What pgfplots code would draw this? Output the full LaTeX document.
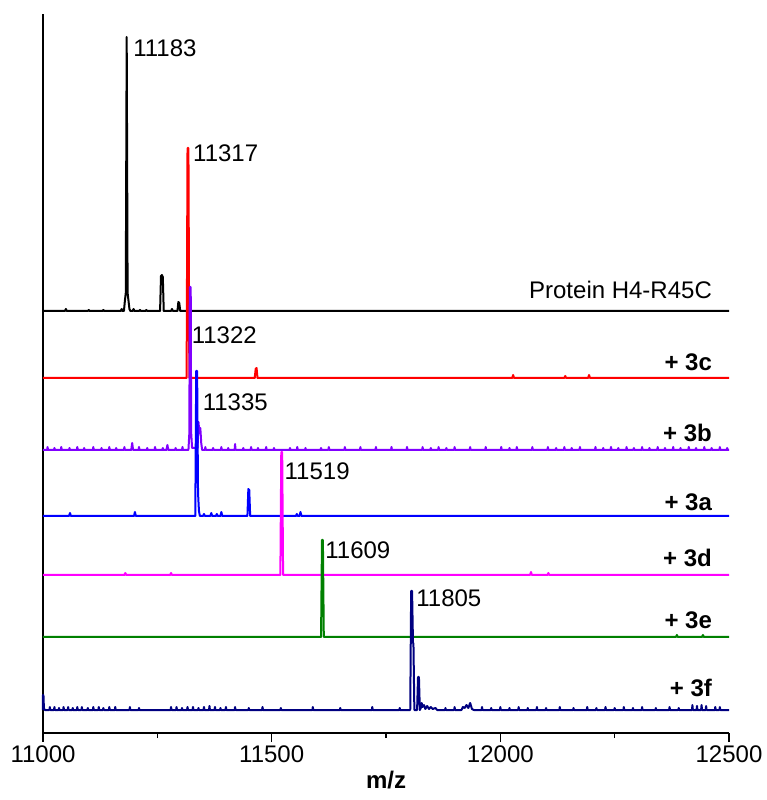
\documentclass[border=0pt]{standalone}
\usepackage{pgfplots}
\pgfplotsset{compat=1.18}
\usepackage{fontspec}
\setmainfont{Liberation Sans}
\definecolor{cpurple}{RGB}{128,0,255}
\definecolor{cgreen}{RGB}{0,128,0}
\definecolor{cnavy}{RGB}{0,0,128}
\definecolor{cmag}{RGB}{255,0,255}
\newcommand{\lf}{\fontsize{24}{28}\selectfont}
\begin{document}
\begin{tikzpicture}
\begin{axis}[name=ax, scale only axis, width=686pt, height=719pt,
  xmin=11000, xmax=12500, ymin=0, ymax=719,
  axis x line=bottom, axis y line=left,
  axis line style={line width=2pt, -},
  ytick=\empty, xtick={11000,11500,12000,12500}, minor x tick num=1,
  tick align=outside, major tick length=9pt, minor tick length=5pt,
  tick style={line width=1.6pt, black},
  scaled x ticks=false,
  xticklabel style={font=\lf, /pgf/number format/fixed, /pgf/number format/1000 sep={}},
  /pgf/number format/assume math mode=true,
  xlabel={\textbf{m/z}}, xlabel style={font=\lf, yshift=-2pt},
  clip=false,
  every axis plot/.append style={line width=2pt, line join=round, mark=none}]
\addplot[black] coordinates {(11000,422) (11048,422)(11050,424)(11052,422) (11098,422)(11100,423)(11102,422) (11130,422)(11132,423)(11134,422) (11170,422)(11172,424)(11174,422)(11177,422)(11179,432)(11181,440)(11183,696)(11185,440)(11187,432)(11189,424)(11191,422) (11196,422)(11198,424)(11200,422)(11210,422)(11212,423)(11214,422)(11224,422)(11226,423)(11228,422) (11256,422)(11258,457)(11260,458)(11262,456)(11264,422) (11280,422)(11282,424)(11284,422) (11294,422)(11296,431)(11298,430)(11300,422) (12500,422)};
\addplot[red] coordinates {(11000,355)(11314,355)(11316,585)(11318,585)(11320,355)(11463,355)(11465,364)(11467,365)(11469,355)(12026,355)(12028,358)(12030,355)(12140,355)(12142,357)(12144,355)(12192,355)(12194,358)(12196,355)(12500,355)};
\addplot[cpurple] coordinates {(11000,283)
(11009,283)(11010,286)(11011,283)
(11024,283)(11025,285)(11026,283)
(11039,283)(11040,286)(11041,283)
(11057,283)(11058,285)(11059,283)
(11074,283)(11075,286)(11076,283)
(11089,283)(11090,285)(11091,283)
(11109,283)(11110,286)(11111,283)
(11127,283)(11128,285)(11129,283)
(11144,283)(11145,286)(11146,283)
(11159,283)(11160,285)(11161,283)
(11177,283)(11178,286)(11179,283)
(11193,283)(11195,290)(11197,283)
(11209,283)(11210,286)(11211,283)
(11227,283)(11228,285)(11229,283)
(11244,283)(11245,286)(11246,283)
(11261,283)(11262,285)(11263,283)
(11270,283)(11272,288)(11274,283)
(11289,283)(11290,285)(11291,283)
(11304,283)(11305,286)(11306,283)
(11318,283)(11320,300)(11321,446)(11323,446)(11324,300)(11326,285)(11338,285)(11340,311)(11342,300)(11344,305)(11346,290)(11348,283)
(11354,283)(11355,286)(11356,283)
(11371,283)(11372,285)(11373,283)
(11389,283)(11390,286)(11391,283)
(11404,283)(11405,285)(11406,283)
(11419,283)(11420,289)(11421,283)
(11437,283)(11438,285)(11439,283)
(11454,283)(11455,286)(11456,283)
(11469,283)(11470,285)(11471,283)
(11487,283)(11488,286)(11489,283)
(11504,283)(11505,285)(11506,283)
(11539,283)(11540,285)(11541,283)
(11555,283)(11556,286)(11557,283)
(11573,283)(11574,285)(11575,283)
(11607,283)(11608,285)(11609,283)
(11624,283)(11625,286)(11626,283)
(11659,283)(11660,286)(11661,283)
(11693,283)(11694,286)(11695,283)
(11727,283)(11728,286)(11729,283)
(11761,283)(11762,286)(11763,283)
(11795,283)(11796,286)(11797,283)
(11829,283)(11830,286)(11831,283)
(11847,283)(11848,285)(11849,283)
(11864,283)(11865,286)(11866,283)
(11881,283)(11882,285)(11883,283)
(11899,283)(11900,286)(11901,283)
(11933,283)(11934,286)(11935,283)
(11967,283)(11968,286)(11969,283)
(12001,283)(12002,286)(12003,283)
(12019,283)(12020,285)(12021,283)
(12035,283)(12036,286)(12037,283)
(12069,283)(12070,286)(12071,283)
(12103,283)(12104,286)(12105,283)
(12121,283)(12122,285)(12123,283)
(12139,283)(12140,286)(12141,283)
(12155,283)(12156,285)(12157,283)
(12173,283)(12174,286)(12175,283)
(12207,283)(12208,286)(12209,283)
(12224,283)(12225,285)(12226,283)
(12241,283)(12242,286)(12243,283)
(12257,283)(12258,285)(12259,283)
(12275,283)(12276,286)(12277,283)
(12291,283)(12292,285)(12293,283)
(12309,283)(12310,286)(12311,283)
(12325,283)(12326,285)(12327,283)
(12343,283)(12344,286)(12345,283)
(12359,283)(12360,285)(12361,283)
(12377,283)(12378,286)(12379,283)
(12393,283)(12394,285)(12395,283)
(12411,283)(12412,286)(12413,283)
(12427,283)(12428,285)(12429,283)
(12445,283)(12446,286)(12447,283)
(12461,283)(12462,285)(12463,283)
(12479,283)(12480,286)(12481,283)
(12495,283)(12496,285)(12497,283)
(12500,283)};
\addplot[blue] coordinates {(11000,217)(11057,217)(11059,220)(11061,217)(11199,217)(11201,221)(11203,217)(11333,217)(11335,362)(11337,362)(11339,240)(11341,222)(11343,217)(11350,217)(11352,219)(11354,217)(11366,217)(11368,220)(11370,217)(11378,217)(11380,219)(11382,217)(11388,217)(11390,221)(11392,217)(11447,217)(11449,244)(11451,243)(11453,217)(11553,217)(11555,219)(11557,217)(11561,217)(11563,221)(11565,217)(12500,217)};
\addplot[cmag] coordinates {(11000,158)(11178,158)(11180,160)(11182,158)(11278,158)(11280,160)(11282,158)(11519,158)(11521,281)(11523,281)(11525,158)(12065,158)(12067,161)(12069,158)(12103,158)(12105,160)(12107,158)(12500,158)};
\addplot[cgreen] coordinates {(11000,96)(11608,96)(11610,193)(11612,193)(11614,96)(12384,96)(12386,98)(12388,96)(12441,96)(12443,98)(12445,96)(12500,96)};
\addplot[cnavy] coordinates {(11000,23)(11000,38)(11001,38)(11002,25)(11004,23)
(11014,23)(11015,26)(11016,23)
(11024,23)(11025,26)(11026,23)
(11034,23)(11035,25)(11036,23)
(11044,23)(11045,26)(11046,23)
(11054,23)(11055,26)(11056,23)
(11064,23)(11065,25)(11066,23)
(11074,23)(11075,26)(11076,23)
(11084,23)(11085,26)(11086,23)
(11097,23)(11098,25)(11099,23)
(11109,23)(11110,26)(11111,23)
(11121,23)(11122,26)(11123,23)
(11131,23)(11132,25)(11133,23)
(11144,23)(11145,26)(11146,23)
(11157,23)(11158,26)(11159,23)
(11189,23)(11190,26)(11191,23)
(11209,23)(11210,25)(11211,23)
(11279,23)(11280,26)(11281,23)
(11291,23)(11292,26)(11293,23)
(11303,23)(11304,25)(11305,23)
(11315,23)(11316,26)(11317,23)
(11327,23)(11328,26)(11329,23)
(11339,23)(11340,25)(11341,23)
(11351,23)(11352,26)(11353,23)
(11363,23)(11364,27)(11365,23)
(11375,23)(11376,26)(11377,23)
(11387,23)(11388,25)(11389,23)
(11399,23)(11400,26)(11401,23)
(11419,23)(11420,26)(11421,23)
(11449,23)(11450,25)(11451,23)
(11479,23)(11480,26)(11481,23)
(11519,23)(11520,25)(11521,23)
(11589,23)(11590,26)(11591,23)
(11649,23)(11650,25)(11651,23)
(11719,23)(11720,26)(11721,23)
(11779,23)(11780,25)(11781,23)
(11803,23)(11805,142)(11807,142)(11809,90)(11810,90)(11812,23)
(11818,23)(11820,56)(11822,56)(11824,23)(11826,25)(11828,30)(11830,26)(11833,28)(11836,24)(11840,27)(11844,24)(11848,26)(11852,24)(11858,25)(11862,23)
(11879,23)(11880,25)(11881,23)
(11899,23)(11900,26)(11901,23)
(11915,23)(11918,26)(11922,25)(11926,28)(11930,25)(11934,30)(11938,24)(11942,23)
(11959,23)(11960,26)(11961,23)
(11979,23)(11980,25)(11981,23)
(11999,23)(12000,26)(12001,23)
(12019,23)(12020,25)(12021,23)
(12039,23)(12040,26)(12041,23)
(12059,23)(12060,25)(12061,23)
(12079,23)(12080,26)(12081,23)
(12099,23)(12100,25)(12101,23)
(12129,23)(12130,26)(12131,23)
(12159,23)(12160,25)(12161,23)
(12189,23)(12190,26)(12191,23)
(12209,23)(12210,25)(12211,23)
(12229,23)(12230,26)(12231,23)
(12249,23)(12250,25)(12251,23)
(12269,23)(12270,26)(12271,23)
(12289,23)(12290,25)(12291,23)
(12309,23)(12310,26)(12311,23)
(12339,23)(12340,25)(12341,23)
(12369,23)(12370,26)(12371,23)
(12389,23)(12390,25)(12391,23)
(12419,23)(12420,28)(12421,23)
(12429,23)(12430,27)(12431,23)
(12439,23)(12440,28)(12441,23)
(12449,23)(12450,27)(12451,23)
(12469,23)(12470,26)(12471,23)
(12479,23)(12480,26)(12481,23)
(12500,23)};
\node[anchor=west, inner sep=0, font=\lf] at (axis cs:11197,685) {11183};
\node[anchor=west, inner sep=0, font=\lf] at (axis cs:11328,580) {11317};
\node[anchor=west, inner sep=0, font=\lf] at (axis cs:11325,398) {11322};
\node[anchor=west, inner sep=0, font=\lf] at (axis cs:11349,331) {11335};
\node[anchor=west, inner sep=0, font=\lf] at (axis cs:11528,262) {11519};
\node[anchor=west, inner sep=0, font=\lf] at (axis cs:11617,183) {11609};
\node[anchor=west, inner sep=0, font=\lf] at (axis cs:11816,135) {11805};
\node[anchor=east, inner sep=0, font=\lf] at (axis cs:12463,443) {Protein H4-R45C};
\node[anchor=east, inner sep=0, font=\lf\bfseries] at (axis cs:12463,371) {+ 3c};
\node[anchor=east, inner sep=0, font=\lf\bfseries] at (axis cs:12463,300) {+ 3b};
\node[anchor=east, inner sep=0, font=\lf\bfseries] at (axis cs:12463,231) {+ 3a};
\node[anchor=east, inner sep=0, font=\lf\bfseries] at (axis cs:12463,175) {+ 3d};
\node[anchor=east, inner sep=0, font=\lf\bfseries] at (axis cs:12463,113) {+ 3e};
\node[anchor=east, inner sep=0, font=\lf\bfseries] at (axis cs:12463,45) {+ 3f};
\end{axis}
\path ([shift={(-43pt,-67pt)}]ax.south west) rectangle ++(767pt,800pt);
\end{tikzpicture}
\end{document}
